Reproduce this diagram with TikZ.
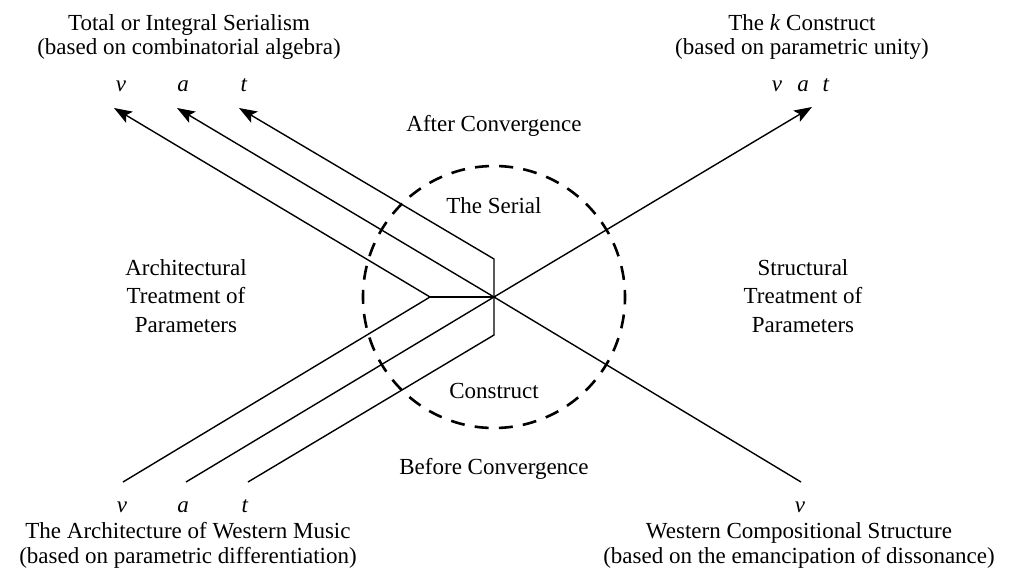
\documentclass[tikz,border=0pt]{standalone}
\usepackage{fontspec}
\setmainfont{Liberation Serif}
\usetikzlibrary{arrows.meta}
\begin{document}
\begin{tikzpicture}[x=1pt,y=-1pt,
  lbl/.style={inner sep=0pt, anchor=base, font=\fontsize{23}{25}\selectfont},
  ln/.style={line width=1.4pt, line join=miter},
  arr/.style={ln, -{Stealth[length=18pt,width=13pt,inset=4pt]}},
  conv/.style={line width=2.6pt, dash pattern=on 14pt off 10.2pt, dash phase=7pt}]
\useasboundingbox (0,0) rectangle (1010,581);
% key points
\coordinate (C) at (494,297);
\coordinate (V) at (430,297);
\coordinate (K1) at (494,259);
\coordinate (K2) at (494,335);
\coordinate (vT) at (114,108);
\coordinate (aT) at (177,108);
\coordinate (tT) at (239,108);
\coordinate (kT) at (812,107);
\coordinate (vB) at (123,482);
\coordinate (aB) at (186,482);
\coordinate (tB) at (248,482);
\coordinate (wB) at (801,482);
% convergence circle
\draw[conv] (C) circle[radius=131pt];
% lines
\draw[arr] (vB) -- (V) -- (vT);
\draw[ln] (V) -- (C);
\draw[arr] (aB) -- (C) -- (aT);
\draw[arr] (tB) -- (K2) -- (K1) -- (tT);
\draw[arr] (wB) -- (C) -- (kT);
% top left
\node[lbl] (tl1) at (189,30) {Total or Integral Serialism};
\node[lbl] (tl2) at (189,54) {(based on combinatorial algebra)};
\node[lbl] (tlv) at (121,91) {\textit{ν}};
\node[lbl] (tla) at (183,91) {\textit{a}};
\node[lbl] (tlt) at (244,91) {\textit{t}};
% top right
\node[lbl] (tr1) at (802,30) {The \textit{k} Construct};
\node[lbl] (tr2) at (802,54) {(based on parametric unity)};
\node[lbl] (trv) at (777,91) {\textit{ν}};
\node[lbl] (tra) at (803,91) {\textit{a}};
\node[lbl] (trt) at (826,91) {\textit{t}};
% middle
\node[lbl] (after) at (494,131) {After Convergence};
\node[lbl] (serial) at (494,213) {The Serial};
\node[lbl] (constr) at (494,398) {Construct};
\node[lbl] (before) at (494,474) {Before Convergence};
\node[lbl] (ar1) at (186,275) {Architectural};
\node[lbl] (ar2) at (186,303) {Treatment of};
\node[lbl] (ar3) at (186,332) {Parameters};
\node[lbl] (st1) at (803,275) {Structural};
\node[lbl] (st2) at (803,303) {Treatment of};
\node[lbl] (st3) at (803,332) {Parameters};
% bottom left
\node[lbl] (blv) at (122,512) {\textit{ν}};
\node[lbl] (bla) at (183,512) {\textit{a}};
\node[lbl] (blt) at (245,512) {\textit{t}};
\node[lbl] (bl1) at (188,538) {The Architecture of Western Music};
\node[lbl] (bl2) at (188,563) {(based on parametric differentiation)};
% bottom right
\node[lbl] (brv) at (800,512) {\textit{ν}};
\node[lbl] (br1) at (799,538) {Western Compositional Structure};
\node[lbl] (br2) at (799,563) {(based on the emancipation of dissonance)};
\end{tikzpicture}
\end{document}
